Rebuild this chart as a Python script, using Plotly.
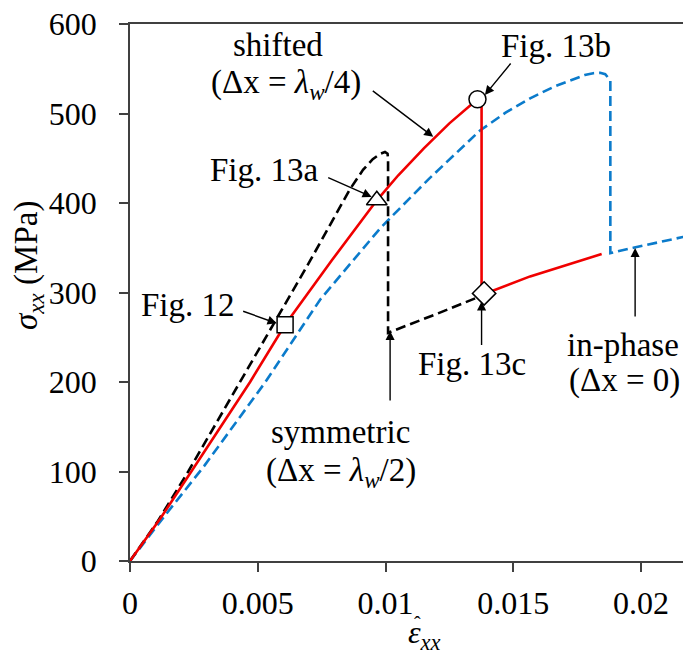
import plotly.graph_objects as go

# Stress-strain responses for three wave-offset configurations
sym_strain = [0, 0.0011, 0.00228, 0.0043, 0.0056, 0.007, 0.0086, 0.00912, 0.0095, 0.0098, 0.00998, 0.01008, 0.0101, 0.0101, 0.0120, 0.01382]
sym_stress = [0, 45, 100, 200, 264, 333, 415, 437, 449, 455, 457, 455, 450, 255, 276, 297]

shift_strain = [0, 0.0012, 0.0024, 0.0047, 0.00607, 0.0079, 0.00966, 0.0105, 0.0115, 0.0125, 0.0136, 0.01376, 0.01376, 0.0142, 0.01566, 0.01846]
shift_stress = [0, 48, 100, 200, 264, 336, 403, 431, 461, 489, 516, 512, 300, 302, 318, 343]

inph_strain = [0, 0.0014, 0.0029, 0.0053, 0.00744, 0.0098, 0.0117, 0.0137, 0.0147, 0.01566, 0.0166, 0.01735, 0.0178, 0.01813, 0.0184, 0.0186, 0.0188, 0.0188, 0.0197, 0.02164, 0.0225]
inph_stress = [0, 52, 106, 200, 292, 372, 427, 481, 501, 517, 530, 538, 543, 545, 545.5, 544, 537, 344, 350, 362, 366]

# States shown in the referenced figures
state_strain = [0.00607, 0.00966, 0.0136, 0.01386]
state_stress = [264, 403, 516, 299]
state_symbols = ["square", "triangle-up", "circle", "diamond"]
state_sizes = [16, 18, 17, 18]

x_ticks = [0, 0.005, 0.01, 0.015, 0.02]
x_tick_text = ["0", "0.005", "0.01", "0.015", "0.02"]
y_ticks = [0, 100, 200, 300, 400, 500, 600]

W, H = 683, 650
ML, MT, MB = 130, 24, 89
PW, PH = W - ML, H - MT - MB
X_MAX = PW / 25550.0

FONT = "Liberation Serif"
TXT = 33

fig = go.Figure()
fig.add_trace(go.Scatter(x=inph_strain, y=inph_stress, mode="lines",
                         line=dict(color="#0B7BCB", width=2.6, dash="10px,5px")))
fig.add_trace(go.Scatter(x=sym_strain, y=sym_stress, mode="lines",
                         line=dict(color="#000000", width=2.6, dash="10px,5px")))
fig.add_trace(go.Scatter(x=shift_strain, y=shift_stress, mode="lines",
                         line=dict(color="#F00000", width=2.6)))
fig.add_trace(go.Scatter(x=state_strain, y=state_stress, mode="markers",
                         marker=dict(symbol=state_symbols, size=state_sizes, color="white",
                                     opacity=1, line=dict(color="black", width=1.5))))


def px_x(p):
    return (p - ML) / PW


def px_y(p):
    return (H - MB - p) / PH


annotations = []

# labels (positions in pixels)
labels = [
    ("shifted", 278, 45, "center"),
    ("(Δx = <i>λ</i><sub><i>w</i></sub>/4)", 286, 84, "center"),
    ("Fig. 13a", 264, 170, "center"),
    ("Fig. 12", 188, 305, "center"),
    ("Fig. 13b", 556, 46, "center"),
    ("symmetric", 340, 432, "center"),
    ("(Δx = <i>λ</i><sub><i>w</i></sub>/2)", 341, 472, "center"),
    ("Fig. 13c", 472, 364, "center"),
    ("in-phase", 565, 345, "left"),
    ("(Δx = 0)", 567, 380, "left"),
]
for txt, cx, cy, anchor in labels:
    annotations.append(dict(text=txt, xref="paper", yref="paper", x=px_x(cx), y=px_y(cy),
                            xanchor=anchor, yanchor="middle", showarrow=False,
                            font=dict(family=FONT, size=TXT, color="black")))

# pointer arrows: tip in data units, tail offset in pixels
arrows = [
    (0.00574, 265.6, -35, -12.6),
    (0.00946, 406.8, -45, -20),
    (0.01187, 474.0, -62, -47),
    (0.01389, 520.7, 27, -33),
    (0.01018, 257.0, 0, 71),
    (0.01376, 290.0, 0, 45),
    (0.01977, 349.7, 0, 70),
]
for tx, ty, ax, ay in arrows:
    annotations.append(dict(text="", x=tx, y=ty, xref="x", yref="y", ax=ax, ay=ay,
                            showarrow=True, arrowhead=2, arrowsize=1.3, arrowwidth=1.4,
                            arrowcolor="black"))

# axis titles
annotations.append(dict(text="<i>σ</i><sub><i>xx</i></sub> (MPa)", xref="paper", yref="paper",
                        x=px_x(28), y=px_y(266), textangle=-90, showarrow=False,
                        xanchor="center", yanchor="middle",
                        font=dict(family=FONT, size=TXT, color="black")))
annotations.append(dict(text="<i>ε</i><sub><i>xx</i></sub>", xref="paper", yref="paper",
                        x=px_x(406), y=px_y(634), showarrow=False,
                        xanchor="left", yanchor="middle",
                        font=dict(family=FONT, size=32, color="black")))
annotations.append(dict(text="ˆ", xref="paper", yref="paper",
                        x=px_x(417), y=px_y(624), showarrow=False,
                        xanchor="center", yanchor="middle",
                        font=dict(family=FONT, size=20, color="black")))

fig.update_layout(
    width=W, height=H,
    margin=dict(l=ML, r=0, t=MT, b=MB, pad=0),
    paper_bgcolor="white", plot_bgcolor="white",
    showlegend=False,
    font=dict(family=FONT, size=32, color="black"),
    annotations=annotations,
    xaxis=dict(range=[0, X_MAX], tickvals=x_ticks, ticktext=x_tick_text,
               showgrid=False, zeroline=False, showline=True, linecolor="#404040",
               linewidth=1.6, mirror=True, ticks="outside", ticklen=9, tickwidth=1.6,
               tickcolor="#404040", ticklabelstandoff=4,
               tickfont=dict(family=FONT, size=32, color="black")),
    yaxis=dict(range=[0, 600], tickvals=y_ticks, showgrid=False, zeroline=False,
               showline=True, linecolor="#404040", linewidth=1.6, ticks="outside",
               ticklen=9, tickwidth=1.6, tickcolor="#404040", ticklabelstandoff=16,
               tickfont=dict(family=FONT, size=32, color="black")),
)

fig.write_html("out.html")
